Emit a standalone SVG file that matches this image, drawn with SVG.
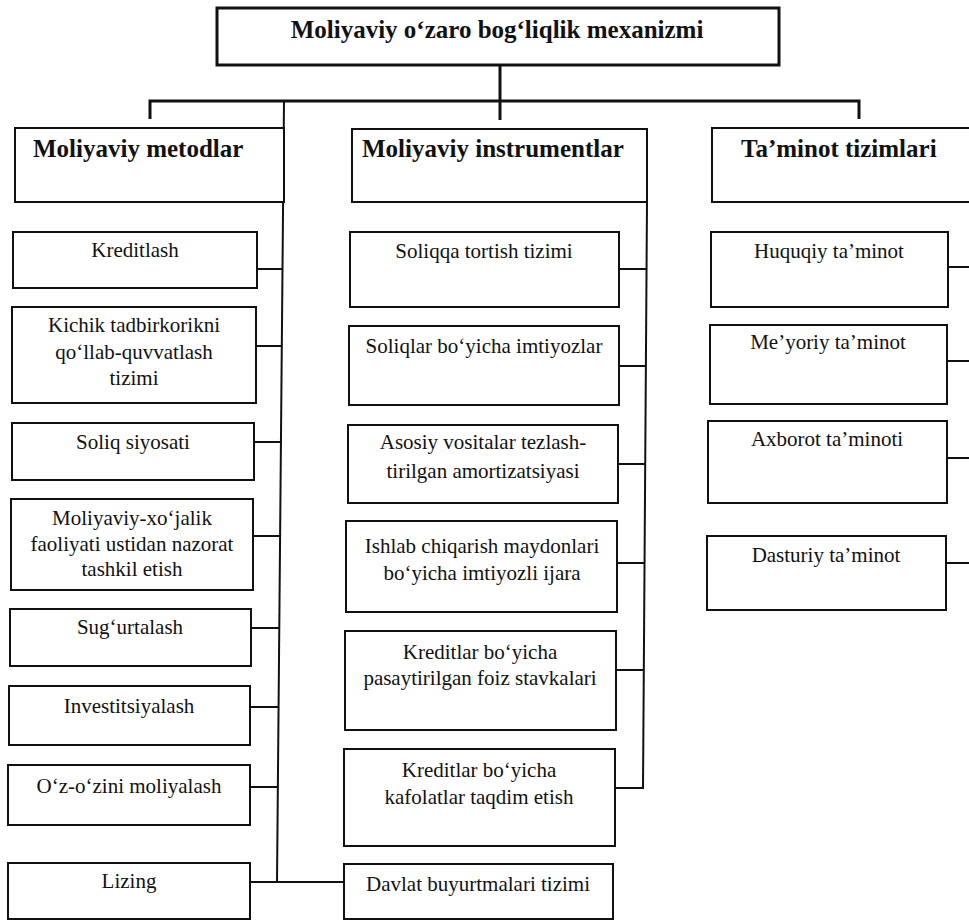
<svg xmlns="http://www.w3.org/2000/svg" width="969" height="921" viewBox="0 0 969 921">
<style>
  .box { fill: #ffffff; stroke: #111111; stroke-width: 2; }
  .hbox { fill: #ffffff; stroke: #111111; stroke-width: 2; }
  .tbox { fill: #ffffff; stroke: #111111; stroke-width: 3; }
  .t { font-family: "Liberation Serif", "Times New Roman", serif; font-size: 21px; fill: #111111; text-anchor: middle; }
  .h { font-family: "Liberation Serif", "Times New Roman", serif; font-size: 25px; font-weight: bold; fill: #111111; }
  .ti { font-family: "Liberation Serif", "Times New Roman", serif; font-size: 25px; font-weight: bold; fill: #111111; text-anchor: middle; }
  .c { fill: none; stroke: #111111; stroke-width: 2; }
  .cb { fill: none; stroke: #111111; stroke-width: 3; }
</style>
<rect width="969" height="921" fill="#ffffff"/>

<g id="connectors">
  <line class="cb" x1="500" y1="65" x2="500" y2="120"/>
  <polyline class="cb" points="150,119 150,101 859,101 859,119"/>
  <line class="c" x1="284" y1="101" x2="277" y2="882"/>
  <line class="c" x1="647" y1="202" x2="643" y2="788"/>
  <!-- left branches -->
  <line class="c" x1="257" y1="269" x2="283" y2="269"/>
  <line class="c" x1="256" y1="346" x2="282" y2="346"/>
  <line class="c" x1="254" y1="442" x2="282" y2="442"/>
  <line class="c" x1="253" y1="536" x2="281" y2="536"/>
  <line class="c" x1="251" y1="628" x2="280" y2="628"/>
  <line class="c" x1="250" y1="707" x2="279" y2="707"/>
  <line class="c" x1="250" y1="787" x2="278" y2="787"/>
  <line class="c" x1="250" y1="882" x2="344" y2="882"/>
  <!-- middle branches -->
  <line class="c" x1="619" y1="269" x2="646" y2="269"/>
  <line class="c" x1="619" y1="366" x2="646" y2="366"/>
  <line class="c" x1="618" y1="464" x2="645" y2="464"/>
  <line class="c" x1="617" y1="563" x2="645" y2="563"/>
  <line class="c" x1="616" y1="670" x2="644" y2="670"/>
  <line class="c" x1="615" y1="788" x2="644" y2="788"/>
  <!-- right branches -->
  <line class="c" x1="948" y1="267" x2="969" y2="267"/>
  <line class="c" x1="947" y1="361" x2="969" y2="361"/>
  <line class="c" x1="947" y1="458" x2="969" y2="458"/>
  <line class="c" x1="946" y1="563" x2="969" y2="563"/>
</g>

<g id="node-root">
  <rect class="tbox" x="217" y="8" width="562" height="57"/>
  <text class="ti" x="497" y="38">Moliyaviy o‘zaro bog‘liqlik mexanizmi</text>
</g>

<g id="node-metodlar">
  <rect class="hbox" x="15" y="128" width="269" height="74"/>
  <text class="h" x="33" y="157">Moliyaviy metodlar</text>
</g>
<g id="node-instrumentlar">
  <rect class="hbox" x="352" y="129" width="295" height="73"/>
  <text class="h" x="362" y="157">Moliyaviy instrumentlar</text>
</g>
<g id="node-taminot">
  <rect class="hbox" x="712" y="128" width="270" height="74"/>
  <text class="h" x="741" y="157">Ta’minot tizimlari</text>
</g>

<!-- left column -->
<g id="node-kreditlash">
  <rect class="box" x="13" y="232" width="244" height="56"/>
  <text class="t" x="135" y="257">Kreditlash</text>
</g>
<g id="node-kichik">
  <rect class="box" x="12" y="307" width="244" height="96"/>
  <text class="t" x="134" y="332">Kichik tadbirkorikni</text>
  <text class="t" x="134" y="359">qo‘llab-quvvatlash</text>
  <text class="t" x="134" y="385">tizimi</text>
</g>
<g id="node-soliq-siyosati">
  <rect class="box" x="12" y="423" width="242" height="57"/>
  <text class="t" x="133" y="449">Soliq siyosati</text>
</g>
<g id="node-nazorat">
  <rect class="box" x="11" y="499" width="242" height="91"/>
  <text class="t" x="132" y="525">Moliyaviy-xo‘jalik</text>
  <text class="t" x="132" y="551">faoliyati ustidan nazorat</text>
  <text class="t" x="132" y="576">tashkil etish</text>
</g>
<g id="node-sugurtalash">
  <rect class="box" x="10" y="609" width="241" height="57"/>
  <text class="t" x="130" y="634">Sug‘urtalash</text>
</g>
<g id="node-investitsiyalash">
  <rect class="box" x="9" y="686" width="241" height="59"/>
  <text class="t" x="129" y="713">Investitsiyalash</text>
</g>
<g id="node-ozini">
  <rect class="box" x="8" y="765" width="242" height="60"/>
  <text class="t" x="129" y="793">O‘z-o‘zini moliyalash</text>
</g>
<g id="node-lizing">
  <rect class="box" x="8" y="863" width="242" height="56"/>
  <text class="t" x="129" y="888">Lizing</text>
</g>

<!-- middle column -->
<g id="node-soliqqa">
  <rect class="box" x="350" y="232" width="269" height="75"/>
  <text class="t" x="484" y="258">Soliqqa tortish tizimi</text>
</g>
<g id="node-soliqlar">
  <rect class="box" x="349" y="326" width="270" height="79"/>
  <text class="t" x="484" y="353">Soliqlar bo‘yicha imtiyozlar</text>
</g>
<g id="node-asosiy">
  <rect class="box" x="348" y="425" width="270" height="78"/>
  <text class="t" x="483" y="449">Asosiy vositalar tezlash-</text>
  <text class="t" x="483" y="478">tirilgan amortizatsiyasi</text>
</g>
<g id="node-ishlab">
  <rect class="box" x="346" y="521" width="271" height="91"/>
  <text class="t" x="482" y="553">Ishlab chiqarish maydonlari</text>
  <text class="t" x="482" y="580">bo‘yicha imtiyozli ijara</text>
</g>
<g id="node-foiz">
  <rect class="box" x="345" y="631" width="271" height="99"/>
  <text class="t" x="480" y="659">Kreditlar bo‘yicha</text>
  <text class="t" x="480" y="685">pasaytirilgan foiz stavkalari</text>
</g>
<g id="node-kafolat">
  <rect class="box" x="344" y="749" width="271" height="97"/>
  <text class="t" x="479" y="777">Kreditlar bo‘yicha</text>
  <text class="t" x="479" y="804">kafolatlar taqdim etish</text>
</g>
<g id="node-davlat">
  <rect class="box" x="344" y="864" width="269" height="55"/>
  <text class="t" x="478" y="891">Davlat buyurtmalari tizimi</text>
</g>

<!-- right column -->
<g id="node-huquqiy">
  <rect class="box" x="711" y="232" width="237" height="75"/>
  <text class="t" x="829" y="258">Huquqiy ta’minot</text>
</g>
<g id="node-meyoriy">
  <rect class="box" x="710" y="325" width="237" height="79"/>
  <text class="t" x="828" y="349">Me’yoriy ta’minot</text>
</g>
<g id="node-axborot">
  <rect class="box" x="708" y="421" width="239" height="82"/>
  <text class="t" x="827" y="446">Axborot ta’minoti</text>
</g>
<g id="node-dasturiy">
  <rect class="box" x="707" y="536" width="239" height="74"/>
  <text class="t" x="826" y="562">Dasturiy ta’minot</text>
</g>
</svg>
